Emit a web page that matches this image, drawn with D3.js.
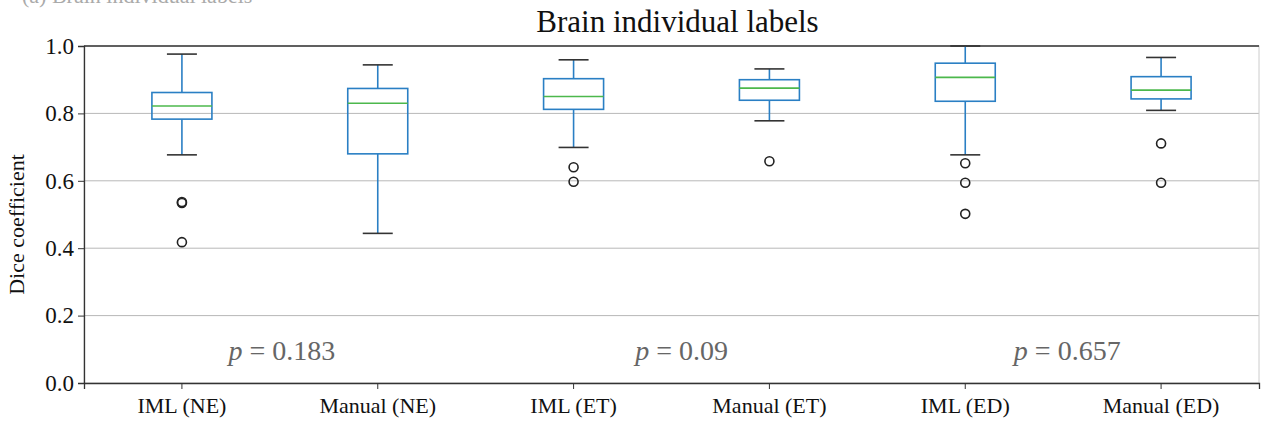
<!DOCTYPE html>
<html><head><meta charset="utf-8">
<script src="https://cdn.jsdelivr.net/npm/d3@7"></script>
<style>body{margin:0;background:#fff}svg{display:block}text{font-family:"Liberation Serif","DejaVu Serif",serif}</style>
</head><body><svg id="c" width="1262" height="421"></svg>
<script>
const categories = ["IML (NE)","Manual (NE)","IML (ET)","Manual (ET)","IML (ED)","Manual (ED)"];
const whiskerLow  = [0.677, 0.444, 0.699, 0.778, 0.677, 0.809];
const q1          = [0.783, 0.680, 0.812, 0.839, 0.836, 0.843];
const median      = [0.822, 0.830, 0.850, 0.875, 0.907, 0.869];
const q3          = [0.862, 0.874, 0.903, 0.900, 0.949, 0.909];
const whiskerHigh = [0.976, 0.944, 0.959, 0.932, 1.000, 0.966];
const outliers    = [[0.534, 0.537, 0.418], [], [0.640, 0.597], [0.658], [0.652, 0.594, 0.502], [0.711, 0.594]];
const yTicks = [0.0, 0.2, 0.4, 0.6, 0.8, 1.0];
const pLabels = [{pair:[0,1], text:"0.183"},{pair:[2,3], text:"0.09"},{pair:[4,5], text:"0.657"}];

const svg = d3.select("#c");
const m = {l:84, r:1259, t:46, b:383};
const x = d3.scaleBand().domain(categories).range([m.l, m.r]).paddingInner(0).paddingOuter(0);
const y = d3.scaleLinear().domain([0,1]).range([m.b, m.t]);

// cut-off caption at top (clipped in the reference too)
svg.append("text").attr("x",22).attr("y",3).attr("font-size",22).attr("fill","#aaa").text("(a) Brain individual labels");

// grid
svg.append("g").selectAll("line").data(yTicks.filter(t=>t>0&&t<1)).join("line")
  .attr("x1",m.l).attr("x2",m.r).attr("y1",d=>y(d)).attr("y2",d=>y(d))
  .attr("stroke","#b8b8b8").attr("stroke-width",1);

// frame
svg.append("rect").attr("x",m.l).attr("y",m.t).attr("width",m.r-m.l).attr("height",m.b-m.t)
  .attr("fill","none").attr("stroke","#ccc").attr("stroke-width",1);
svg.append("line").attr("x1",m.l).attr("x2",m.r).attr("y1",m.t).attr("y2",m.t).attr("stroke","#333").attr("stroke-width",1.3);

// axes
const yAxis = svg.append("g").attr("transform",`translate(${m.l},0)`)
  .call(d3.axisLeft(y).tickValues(yTicks).tickFormat(d3.format(".1f")).tickSize(6).tickPadding(4));
const xAxis = svg.append("g").attr("transform",`translate(0,${m.b})`)
  .call(d3.axisBottom(x).tickSize(6).tickPadding(8));
[yAxis,xAxis].forEach(g=>{
  g.select(".domain").attr("stroke","#333").attr("stroke-width",1.3);
  g.selectAll(".tick line").attr("stroke","#333");
  g.selectAll(".tick text").attr("font-size",22).attr("fill","#111").attr("font-family","Liberation Serif, serif");
});
yAxis.selectAll(".tick text").attr("font-size",23);

const boxW = 60, capW = 30;
const g = svg.append("g");
categories.forEach((c,i)=>{
  const cx = x(c) + x.bandwidth()/2;
  g.append("line").attr("x1",cx).attr("x2",cx).attr("y1",y(whiskerLow[i])).attr("y2",y(q1[i])).attr("stroke","#2a7fc4").attr("stroke-width",1.6);
  g.append("line").attr("x1",cx).attr("x2",cx).attr("y1",y(q3[i])).attr("y2",y(whiskerHigh[i])).attr("stroke","#2a7fc4").attr("stroke-width",1.6);
  [whiskerLow[i], whiskerHigh[i]].forEach(v=>{
    g.append("line").attr("x1",cx-capW/2).attr("x2",cx+capW/2).attr("y1",y(v)).attr("y2",y(v)).attr("stroke","#333").attr("stroke-width",1.6);
  });
  g.append("rect").attr("x",cx-boxW/2).attr("y",y(q3[i])).attr("width",boxW).attr("height",y(q1[i])-y(q3[i]))
    .attr("fill","none").attr("stroke","#2a7fc4").attr("stroke-width",1.6);
  g.append("line").attr("x1",cx-boxW/2).attr("x2",cx+boxW/2).attr("y1",y(median[i])).attr("y2",y(median[i])).attr("stroke","#4cb84c").attr("stroke-width",1.6);
  g.selectAll(null).data(outliers[i]).join("circle").attr("cx",cx).attr("cy",d=>y(d)).attr("r",4.5)
    .attr("fill","none").attr("stroke","#222").attr("stroke-width",1.6);
});

// title
svg.append("text").attr("x",(m.l+m.r)/2 + 6).attr("y",32).attr("text-anchor","middle").attr("font-size",31).attr("fill","#111").text("Brain individual labels");

// y label
svg.append("text").attr("transform",`translate(24,${(m.t+m.b)/2 + 10}) rotate(-90)`).attr("text-anchor","middle")
  .attr("font-size",22).attr("fill","#111").text("Dice coefficient");

// p-values
const pShift = [100, 108, 102];
pLabels.forEach((p,k)=>{
  const t = svg.append("text").attr("x", x(categories[p.pair[0]]) + x.bandwidth()/2 + pShift[k]).attr("y",360).attr("text-anchor","middle")
    .attr("font-size",28).attr("fill","#666");
  t.append("tspan").attr("font-style","italic").text("p");
  t.append("tspan").text(" = " + p.text);
});
</script></body></html>
